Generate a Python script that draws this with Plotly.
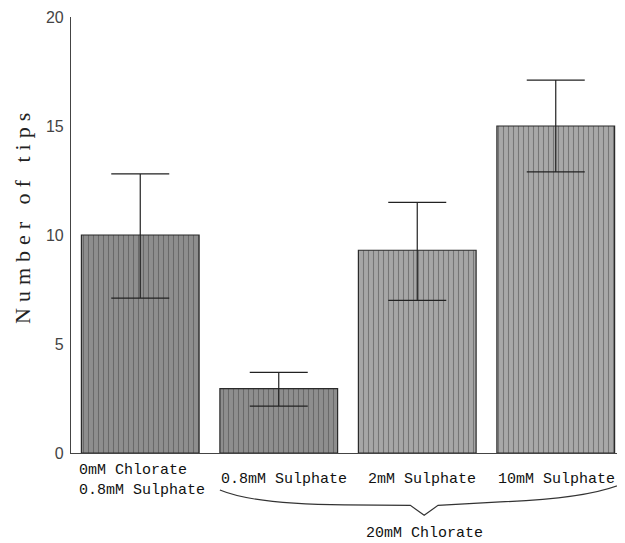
import plotly.graph_objects as go

categories = ["0mM Chlorate<br>0.8mM Sulphate", "0.8mM Sulphate", "2mM Sulphate", "10mM Sulphate"]
tip_means = [10.0, 2.95, 9.3, 15.0]
err_plus = [2.8, 0.75, 2.2, 2.1]
err_minus = [2.9, 0.8, 2.3, 2.1]
y_ticks = [0, 5, 10, 15, 20]
group_label = "20mM Chlorate"
y_title = "Number of tips"

xpos = list(range(len(categories)))
bar_w = 0.85

fig = go.Figure()
fig.add_trace(go.Bar(
    x=xpos, y=tip_means, width=bar_w,
    marker=dict(
        color=["#8e8e8e", "#8e8e8e", "#a6a6a6", "#a8a8a8"],
        line=dict(color="#2a2a2a", width=1.2),
        pattern=dict(shape="|", fgcolor="#5a5a5a",
                     bgcolor=["#939393", "#939393", "#ababab", "#adadad"],
                     size=5, solidity=0.22),
    ),
    error_y=dict(type="data", symmetric=False, array=err_plus, arrayminus=err_minus,
                 color="#222222", thickness=1.2, width=29),
    showlegend=False,
))

fig.update_layout(
    width=617, height=535,
    margin=dict(l=63, r=0, t=9, b=90),
    paper_bgcolor="white", plot_bgcolor="white",
    xaxis=dict(range=[-0.5, 3.5], showticklabels=False, ticks="", showgrid=False,
               zeroline=False, showline=True, linecolor="#444444", linewidth=1.2),
    yaxis=dict(range=[0, 20], tickvals=y_ticks, ticks="", showgrid=False, zeroline=False,
               showline=True, linecolor="#444444", linewidth=1.2,
               ticklabelstandoff=3,
               tickfont=dict(family="Liberation Sans, Arial, sans-serif", size=16, color="#444444")),
)

mono = dict(family="Liberation Mono, Courier New, monospace", size=15, color="#111111")

# category labels
for i, lab in enumerate(categories):
    if i == 0:
        fig.add_annotation(x=i - bar_w / 2, y=0, xref="x", yref="paper", text=lab,
                           showarrow=False, xanchor="left", yanchor="top", align="left",
                           xshift=-4, yshift=-7, font=mono)
    else:
        fig.add_annotation(x=i, y=0, xref="x", yref="paper", text=lab,
                           showarrow=False, xanchor="center", yanchor="middle",
                           xshift=5 if i < 3 else 1, yshift=-26, font=mono)

# brace under the 20mM chlorate group
left = xpos[1] - bar_w / 2
right = xpos[3] + 0.5
mid = (xpos[1] + xpos[3]) / 2 + 0.05
path = (f"M {left},-0.085 Q {left+0.25},-0.118 {left+0.9},-0.119 "
        f"L {mid-0.1},-0.120 L {mid},-0.143 L {mid+0.1},-0.120 "
        f"L {right-0.9},-0.112 Q {right-0.25},-0.105 {right},-0.068")
fig.add_shape(type="path", path=path, xref="x", yref="paper",
              line=dict(color="#333333", width=1.2))

fig.add_annotation(x=mid, y=-0.184, xref="x", yref="paper", text=group_label,
                   showarrow=False, xanchor="center", yanchor="middle", font=mono)

fig.add_annotation(x=0, y=(453 - 216) / 436, xref="paper", yref="paper",
                   text=f'<span style="letter-spacing:6px">{y_title}</span>',
                   textangle=-90, showarrow=False, xanchor="center", yanchor="middle",
                   xshift=-49,
                   font=dict(family="Liberation Serif, Times New Roman, serif", size=22, color="#222222"))

fig.write_html("out.html")
